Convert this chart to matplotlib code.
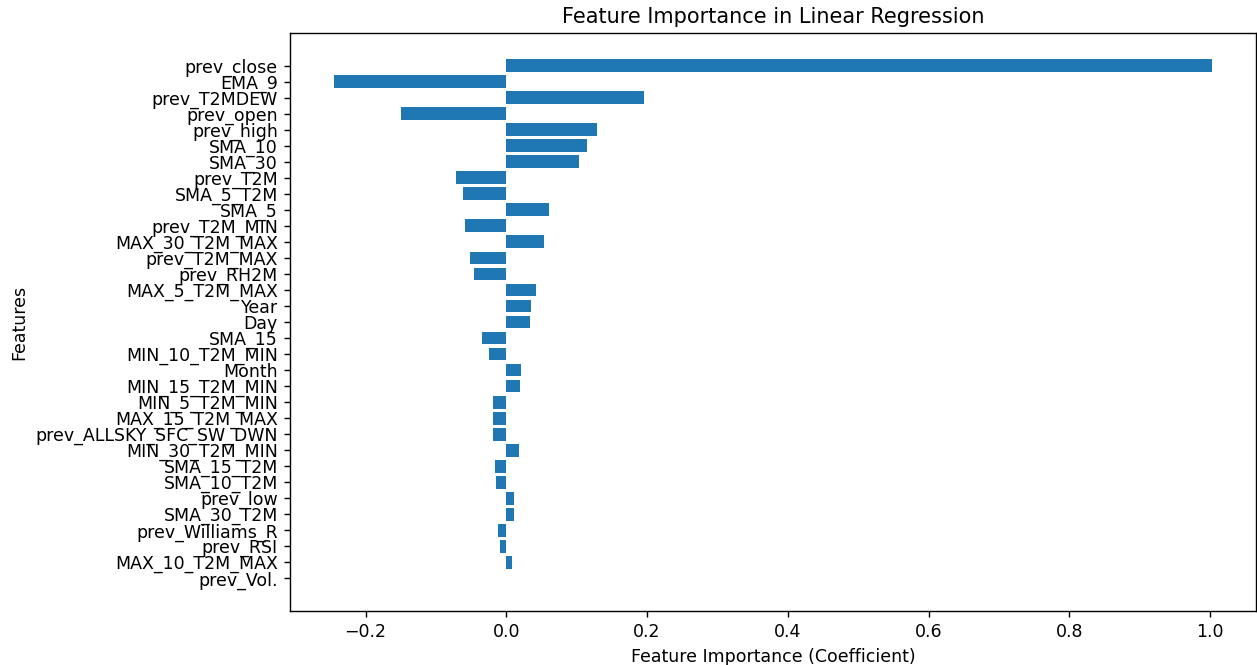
import numpy as np
import matplotlib
matplotlib.use("Agg")
import matplotlib.pyplot as plt

# Linear regression coefficients, sorted by absolute size (largest first)
features = [
    "prev_close", "EMA_9", "prev_T2MDEW", "prev_open", "prev_high",
    "SMA_10", "SMA_30", "prev_T2M", "SMA_5_T2M", "SMA_5",
    "prev_T2M_MIN", "MAX_30_T2M_MAX", "prev_T2M_MAX", "prev_RH2M",
    "MAX_5_T2M_MAX", "Year", "Day", "SMA_15", "MIN_10_T2M_MIN", "Month",
    "MIN_15_T2M_MIN", "MIN_5_T2M_MIN", "MAX_15_T2M_MAX",
    "prev_ALLSKY_SFC_SW_DWN", "MIN_30_T2M_MIN", "SMA_15_T2M", "SMA_10_T2M",
    "prev_low", "SMA_30_T2M", "prev_Williams_R", "prev_RSI",
    "MAX_10_T2M_MAX", "prev_Vol.",
]
coefficients = [
    1.003, -0.245, 0.196, -0.150, 0.129,
    0.115, 0.103, -0.071, -0.062, 0.060,
    -0.058, 0.053, -0.051, -0.046,
    0.042, 0.035, 0.034, -0.035, -0.024, 0.021,
    0.019, -0.019, -0.019,
    -0.019, 0.018, -0.016, -0.014,
    0.011, 0.011, -0.012, -0.009,
    0.008, 0.0,
]

fig = plt.figure(figsize=(1257 / 125, 665 / 125), dpi=125)
ax = fig.add_axes([0.2307, 0.0812, 0.7685, 0.8692])

ax.barh(features, coefficients, color="#1f77b4")
ax.invert_yaxis()

ax.set_title("Feature Importance in Linear Regression")
ax.set_xlabel("Feature Importance (Coefficient)")
ax.set_ylabel("Features")

fig.savefig("out.png", dpi=125)
